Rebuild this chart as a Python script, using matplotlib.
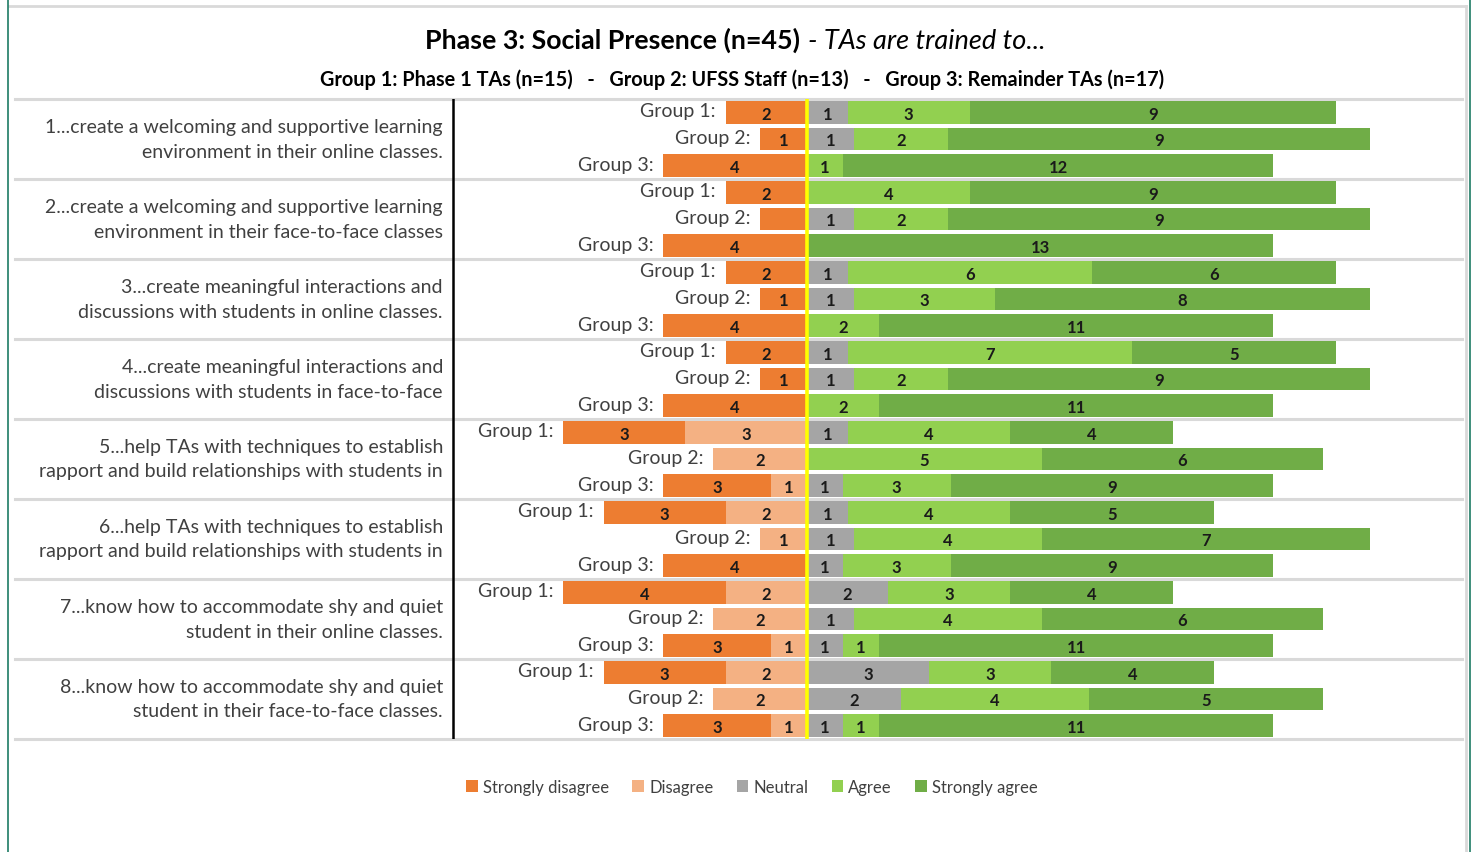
import numpy as np
import matplotlib
matplotlib.use('Agg')
import matplotlib.pyplot as plt
from matplotlib.patches import Patch
from matplotlib.lines import Line2D

plt.rcParams['font.family'] = ['Lato', 'DejaVu Sans']

# dados
questions = [
    '1...create a welcoming and supportive learning\nenvironment in their online classes.',
    '2...create a welcoming and supportive learning\nenvironment in their face-to-face classes',
    '3...create meaningful interactions and\ndiscussions with students in online classes.',
    '4...create meaningful interactions and\ndiscussions with students in face-to-face',
    '5...help TAs with techniques to establish\nrapport and build relationships with students in',
    '6...help TAs with techniques to establish\nrapport and build relationships with students in',
    '7...know how to accommodate shy and quiet\nstudent in their online classes.',
    '8...know how to accommodate shy and quiet\nstudent in their face-to-face classes.',
]
groups = ['Group 1:', 'Group 2:', 'Group 3:']
group_n = [15, 13, 17]
categories = ['Strongly disagree', 'Disagree', 'Neutral', 'Agree', 'Strongly agree']
colors = ['#ED7D31', '#F4B183', '#A5A5A5', '#92D050', '#70AD47']

# counts per question, [group1, group2, group3]
strongly_disagree = [[2, 1, 4], [2, 1, 4], [2, 1, 4], [2, 1, 4], [3, 0, 3], [3, 0, 4], [4, 0, 3], [3, 0, 3]]
disagree = [[0, 0, 0], [0, 0, 0], [0, 0, 0], [0, 0, 0], [3, 2, 1], [2, 1, 0], [2, 2, 1], [2, 2, 1]]
neutral = [[1, 1, 0], [0, 1, 0], [1, 1, 0], [1, 1, 0], [1, 0, 1], [1, 1, 1], [2, 1, 1], [3, 2, 1]]
agree = [[3, 2, 1], [4, 2, 0], [6, 3, 2], [7, 2, 2], [4, 5, 3], [4, 4, 3], [3, 4, 1], [3, 4, 1]]
strongly_agree = [[9, 9, 12], [9, 9, 13], [6, 8, 11], [5, 9, 11], [4, 6, 9], [5, 7, 9], [4, 6, 11], [4, 5, 11]]

# labels missing in the original chart (question, group, category)
hidden_labels = {(1, 1, 0)}

W, H = 1472, 853
fig = plt.figure(figsize=(W / 100, H / 100), dpi=100)

# axes placed in pixel terms
ax_l, ax_r, ax_t, ax_b = 15, 1462, 100, 740
ax = fig.add_axes([ax_l / W, 1 - ax_b / H, (ax_r - ax_l) / W, (ax_b - ax_t) / H])
zero_px, px_per_pct = 807, 6.1
ax.set_xlim((ax_l - zero_px) / px_per_pct, (ax_r - zero_px) / px_per_pct)
ax.set_ylim(len(questions) * 3 - 0.5, -0.5)
ax.axis('off')

counts = [np.array(strongly_disagree), np.array(disagree), np.array(neutral),
          np.array(agree), np.array(strongly_agree)]
n = np.array(group_n)

for q in range(len(questions)):
    for g in range(3):
        y = q * 3 + g
        vals = [c[q, g] for c in counts]
        pct = [v / n[g] * 100 for v in vals]
        starts = [-(pct[0] + pct[1]), -pct[1], 0, pct[2], pct[2] + pct[3]]
        for k in range(5):
            if vals[k] == 0:
                continue
            ax.barh(y, pct[k], left=starts[k], height=0.86, color=colors[k], linewidth=0)
            if (q, g, k) not in hidden_labels:
                ax.text(starts[k] + pct[k] / 2, y + 0.05, str(vals[k]), ha='center', va='center',
                        fontsize=12, fontweight='bold', color='#1a1a1a')
        ax.annotate(groups[g], xy=(starts[0], y), xytext=(-7, 1), textcoords='offset points',
                    ha='right', va='center', fontsize=14, color='#404040')
    ax.text((443 - ax_l) / (ax_r - ax_l), q * 3 + 1, questions[q], transform=ax.get_yaxis_transform(),
            ha='right', va='center', multialignment='right', fontsize=14, color='#404040',
            linespacing=1.5)

# separadores
for q in range(len(questions) + 1):
    ax.axhline(q * 3 - 0.5, color='#D9D9D9', lw=2.2, clip_on=False, zorder=0)

ax.plot([(453 - ax_l) / (ax_r - ax_l)] * 2, [0, 1], transform=ax.transAxes, color='black', lw=1.8)
ax.axvline(0, color='#FFFF00', lw=2.6, zorder=5)

# titulos
fig.text(800 / W, 1 - 49 / H, 'Phase 3: Social Presence (n=45)', ha='right', va='baseline',
         fontsize=19.3, fontweight='bold', color='black')
fig.text(808 / W, 1 - 49 / H, '- TAs are trained to...', ha='left', va='baseline',
         fontsize=19.5, style='italic', color='black')
fig.text(742 / W, 1 - 80 / H,
         'Group 1: Phase 1 TAs (n=15)   -   Group 2: UFSS Staff (n=13)   -   Group 3: Remainder TAs (n=17)',
         ha='center', va='center', fontsize=14.3, fontweight='bold', color='black')

# legenda
handles = [Patch(facecolor=c, edgecolor='none') for c in colors]
leg = fig.legend(handles, categories, loc='center', bbox_to_anchor=(752 / W, 1 - 788 / H), ncol=5,
                 frameon=False, fontsize=12, handlelength=0.7, handleheight=0.7,
                 handletextpad=0.3, columnspacing=1.4)
for t in leg.get_texts():
    t.set_color('#404040')

# moldura
fig.add_artist(Line2D([9 / W, 1466 / W], [1 - 7 / H] * 2, color='#D9D9D9', lw=2, transform=fig.transFigure))
fig.add_artist(Line2D([1466 / W] * 2, [0, 1 - 7 / H], color='#D9D9D9', lw=2, transform=fig.transFigure))
fig.add_artist(Line2D([8 / W] * 2, [0, 1], color='#1E7B65', lw=1.2, transform=fig.transFigure))
fig.add_artist(Line2D([1470 / W] * 2, [0, 1], color='#1E7B65', lw=1.2, transform=fig.transFigure))

fig.savefig('out.png', dpi=100)
